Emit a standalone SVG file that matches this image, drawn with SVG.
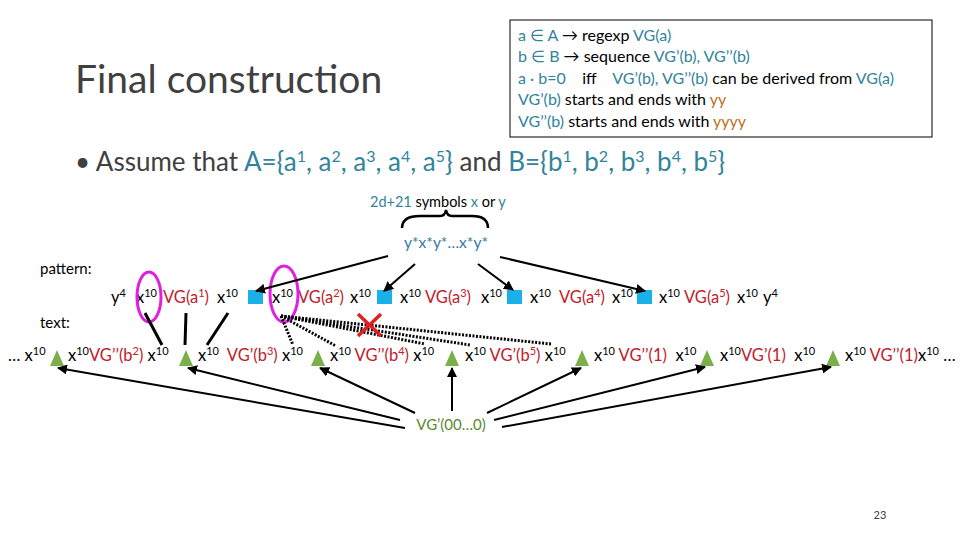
<svg xmlns="http://www.w3.org/2000/svg" width="960" height="540" viewBox="0 0 960 540">
<defs>
<marker id="ah" viewBox="0 0 10 10" refX="9" refY="5" markerWidth="5" markerHeight="5" orient="auto"><path d="M0,0 L10,5 L0,10 z" fill="#000"/></marker>
<style>
text{font-family:Lato,"Liberation Sans",sans-serif;fill:#000;white-space:pre}
.t{fill:#31849b}.r{fill:#c0202a}.o{fill:#c07020}
.p{font-size:16.5px}
.s{font-size:11px}
.arr{stroke:#000;stroke-width:2;fill:none;marker-end:url(#ah)}
.ln{stroke:#000;stroke-width:3;fill:none}
.dot{stroke:#000;stroke-width:3;stroke-dasharray:2 1.5;fill:none}
.sq{fill:#1cb0e8}.tri{fill:#7ab04a}
</style>
</defs>
<rect width="960" height="540" fill="#fff"/>
<g id="title"><text x="75" y="93" font-size="39" style="fill:#404040">Final construction</text></g>
<g id="infobox">
<rect x="510" y="20" width="422" height="117" fill="#fff" stroke="#000" stroke-width="1"/>
<text x="518" y="41" font-size="16"><tspan class="t">a ∈ A</tspan> → regexp <tspan class="t">VG(a)</tspan></text>
<text x="518" y="62" font-size="16"><tspan class="t">b ∈ B</tspan> → sequence <tspan class="t">VG’(b), VG’’(b)</tspan></text>
<text x="518" y="84" font-size="16"><tspan class="t">a · b=0</tspan>    iff    <tspan class="t">VG’(b), VG’’(b)</tspan> can be derived from <tspan class="t">VG(a)</tspan></text>
<text x="518" y="105" font-size="16"><tspan class="t">VG’(b)</tspan> starts and ends with <tspan class="o">yy</tspan></text>
<text x="518" y="127" font-size="16"><tspan class="t">VG’’(b)</tspan> starts and ends with <tspan class="o">yyyy</tspan></text>
</g>
<g id="bullet"><text x="75" y="171" font-size="26" style="fill:#404040">• Assume that <tspan class="t">A={a<tspan dy="-9" font-size="16">1</tspan><tspan dy="9">, a</tspan><tspan dy="-9" font-size="16">2</tspan><tspan dy="9">, a</tspan><tspan dy="-9" font-size="16">3</tspan><tspan dy="9">, a</tspan><tspan dy="-9" font-size="16">4</tspan><tspan dy="9">, a</tspan><tspan dy="-9" font-size="16">5</tspan><tspan dy="9">}</tspan></tspan> and <tspan class="t">B={b<tspan dy="-9" font-size="16">1</tspan><tspan dy="9">, b</tspan><tspan dy="-9" font-size="16">2</tspan><tspan dy="9">, b</tspan><tspan dy="-9" font-size="16">3</tspan><tspan dy="9">, b</tspan><tspan dy="-9" font-size="16">4</tspan><tspan dy="9">, b</tspan><tspan dy="-9" font-size="16">5</tspan><tspan dy="9">}</tspan></tspan></text></g>
<g id="symbols"><text x="370" y="207" font-size="14.5"><tspan class="t">2d+21</tspan> symbols <tspan class="t">x</tspan> or <tspan class="t">y</tspan></text>
<path d="M402,228 Q402,216 420,216 L440,216 Q445,216 446,210 Q447,216 452,216 L472,216 Q488,216 488,228" stroke="#000" stroke-width="2.5" fill="none"/></g>
<g id="pattern-re"><text x="446" y="248" font-size="15.5" text-anchor="middle" style="fill:#3a78a8">y*x*y*…x*y*</text></g>
<g id="labels"><text x="40" y="274" font-size="15">pattern:</text><text x="40" y="328" font-size="15">text:</text></g>
<g id="pattern-row">
<text x="111" y="303" class="p">y<tspan class="s" dy="-6">4</tspan></text>
<text x="136" y="303" class="p">x<tspan class="s" dy="-6">10</tspan></text>
<text x="163" y="303" class="p r">VG(a<tspan class="s" dy="-6">1</tspan><tspan dy="6">)</tspan></text>
<text x="217" y="303" class="p">x<tspan class="s" dy="-6">10</tspan></text>
<rect class="sq" x="248" y="290" width="15" height="14"/>
<text x="272" y="303" class="p">x<tspan class="s" dy="-6">10</tspan></text>
<text x="298" y="303" class="p r">VG(a<tspan class="s" dy="-6">2</tspan><tspan dy="6">)</tspan></text>
<text x="350" y="303" class="p">x<tspan class="s" dy="-6">10</tspan></text>
<rect class="sq" x="377" y="290" width="15" height="14"/>
<text x="400" y="303" class="p">x<tspan class="s" dy="-6">10</tspan></text>
<text x="425" y="303" class="p r">VG(a<tspan class="s" dy="-6">3</tspan><tspan dy="6">)</tspan></text>
<text x="481" y="303" class="p">x<tspan class="s" dy="-6">10</tspan></text>
<rect class="sq" x="507" y="290" width="15" height="14"/>
<text x="530" y="303" class="p">x<tspan class="s" dy="-6">10</tspan></text>
<text x="559" y="303" class="p r">VG(a<tspan class="s" dy="-6">4</tspan><tspan dy="6">)</tspan></text>
<text x="612" y="303" class="p">x<tspan class="s" dy="-6">10</tspan></text>
<rect class="sq" x="637" y="290" width="15" height="14"/>
<text x="659" y="303" class="p">x<tspan class="s" dy="-6">10</tspan></text>
<text x="684" y="303" class="p r">VG(a<tspan class="s" dy="-6">5</tspan><tspan dy="6">)</tspan></text>
<text x="737" y="303" class="p">x<tspan class="s" dy="-6">10</tspan></text>
<text x="763" y="303" class="p">y<tspan class="s" dy="-6">4</tspan></text>
<ellipse cx="149" cy="297" rx="12" ry="25" fill="none" stroke="#e020e0" stroke-width="3"/>
<ellipse cx="284" cy="294" rx="14" ry="28" fill="none" stroke="#e020e0" stroke-width="3"/>
</g>
<g id="text-row">
<text x="8" y="361" class="p">… x<tspan class="s" dy="-6">10</tspan></text>
<polygon class="tri" points="57,350 50,366 64,366"/>
<text x="68" y="361" class="p">x<tspan class="s" dy="-6">10</tspan><tspan dy="6" class="r">VG’’(b</tspan><tspan class="s r" dy="-6">2</tspan><tspan dy="6" class="r">)</tspan> x<tspan class="s" dy="-6">10</tspan></text>
<polygon class="tri" points="186,350 179,366 193,366"/>
<text x="198" y="361" class="p">x<tspan class="s" dy="-6">10</tspan><tspan dy="6" class="r">  VG’(b</tspan><tspan class="s r" dy="-6">3</tspan><tspan dy="6" class="r">)</tspan> x<tspan class="s" dy="-6">10</tspan></text>
<polygon class="tri" points="318,350 311,366 325,366"/>
<text x="330" y="361" class="p">x<tspan class="s" dy="-6">10</tspan><tspan dy="6" class="r"> VG’’(b</tspan><tspan class="s r" dy="-6">4</tspan><tspan dy="6" class="r">)</tspan> x<tspan class="s" dy="-6">10</tspan></text>
<polygon class="tri" points="452,350 445,366 459,366"/>
<text x="465" y="361" class="p">x<tspan class="s" dy="-6">10</tspan><tspan dy="6" class="r"> VG’(b</tspan><tspan class="s r" dy="-6">5</tspan><tspan dy="6" class="r">)</tspan> x<tspan class="s" dy="-6">10</tspan></text>
<polygon class="tri" points="582,350 575,366 589,366"/>
<text x="594" y="361" class="p">x<tspan class="s" dy="-6">10</tspan><tspan dy="6" class="r"> VG’’(1)</tspan>  x<tspan class="s" dy="-6">10</tspan></text>
<polygon class="tri" points="707,350 700,366 714,366"/>
<text x="720" y="361" class="p">x<tspan class="s" dy="-6">10</tspan><tspan dy="6" class="r">VG’(1)</tspan>  x<tspan class="s" dy="-6">10</tspan></text>
<polygon class="tri" points="833,350 826,366 840,366"/>
<text x="845" y="361" class="p">x<tspan class="s" dy="-6">10</tspan><tspan dy="6" class="r"> VG’’(1)</tspan>x<tspan class="s" dy="-6">10</tspan><tspan dy="6"> …</tspan></text>
</g>
<g id="vg0"><text x="451" y="430" font-size="15" text-anchor="middle" style="fill:#5a8a30">VG’(00…0)</text></g>
<g id="connectors">
<path class="arr" d="M388,256 L256,291"/>
<path class="arr" d="M415,264 L384,291"/>
<path class="arr" d="M478,264 L513,290"/>
<path class="arr" d="M500,257 L645,291"/>
<path class="ln" d="M145,313 L162,345"/>
<path class="ln" d="M186,313 L185,345"/>
<path class="ln" d="M228,313 L207,345"/>
<path class="dot" d="M281,316 L293,345"/>
<path class="dot" d="M281,316 L336,346"/>
<path class="dot" d="M281,316 L425,344"/>
<path class="dot" d="M281,316 L470,345"/>
<path class="dot" d="M281,316 L551,344"/>
<path d="M358,314 L381,336 M381,314 L358,336" stroke="#e02020" stroke-width="3.5"/>
<path class="arr" d="M405,428 L58,368"/>
<path class="arr" d="M400,420 L188,368"/>
<path class="arr" d="M415,413 L320,368"/>
<path class="arr" d="M452,411 L452,368"/>
<path class="arr" d="M487,413 L581,368"/>
<path class="arr" d="M494,420 L705,367"/>
<path class="arr" d="M502,427 L831,367"/>
</g>
<g id="page"><text x="880" y="519" font-size="11" text-anchor="middle" style="fill:#404040">23</text></g>
</svg>
